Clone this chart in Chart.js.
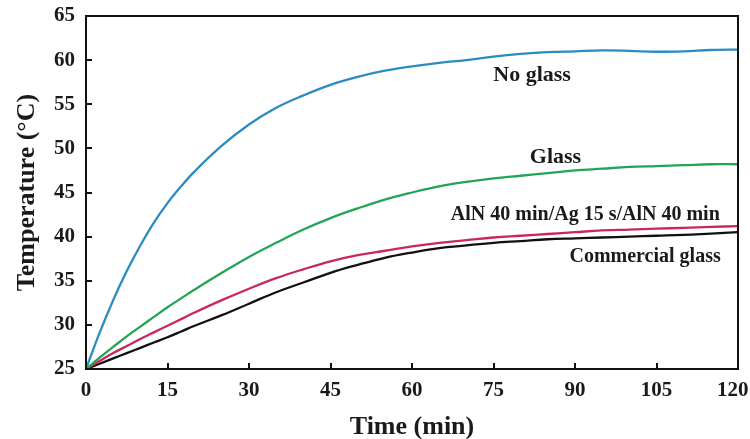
<!DOCTYPE html>
<html>
<head>
<meta charset="utf-8">
<script src="https://cdn.jsdelivr.net/npm/chart.js@4/dist/chart.umd.min.js"></script>
<style>
html,body{margin:0;padding:0;background:#fff;}
#wrap{width:750px;height:439px;position:relative;}
</style>
</head>
<body>
<div id="wrap"><canvas id="c" width="750" height="439"></canvas></div>
<script>
// ---- data ----
const timeMin = [0, 2.5, 5, 7.5, 10, 12.5, 15, 17.5, 20, 25, 30, 35, 40, 45, 50, 55, 60, 65, 70, 75, 80, 85, 90, 95, 100, 105, 110, 115, 120];
const noGlass = [25, 29.1, 32.8, 36.1, 39.0, 41.6, 43.8, 45.7, 47.4, 50.3, 52.7, 54.6, 56.0, 57.2, 58.1, 58.8, 59.3, 59.7, 60.0, 60.4, 60.7, 60.9, 61.0, 61.1, 61.05, 60.95, 61.0, 61.15, 61.2];
const glass = [25, 26.3, 27.5, 28.7, 29.8, 30.9, 32.0, 33.0, 34.0, 35.9, 37.7, 39.3, 40.8, 42.1, 43.2, 44.2, 45.0, 45.7, 46.2, 46.6, 46.9, 47.2, 47.5, 47.7, 47.9, 48.0, 48.1, 48.2, 48.2];
const alnAgAln = [25, 25.9, 26.8, 27.6, 28.4, 29.15, 29.9, 30.65, 31.4, 32.8, 34.1, 35.3, 36.3, 37.2, 37.9, 38.4, 38.9, 39.3, 39.6, 39.9, 40.1, 40.3, 40.5, 40.7, 40.8, 40.9, 41.0, 41.1, 41.2];
const commercialGlass = [25, 25.6, 26.2, 26.8, 27.4, 28.0, 28.6, 29.25, 29.9, 31.1, 32.4, 33.7, 34.8, 35.9, 36.8, 37.6, 38.2, 38.7, 39.0, 39.3, 39.5, 39.7, 39.8, 39.9, 40.0, 40.1, 40.2, 40.35, 40.5];
const seriesNames = ["No glass", "Glass", "AlN 40 min/Ag 15 s/AlN 40 min", "Commercial glass"];
const xTicks = [0, 15, 30, 45, 60, 75, 90, 105, 120];
const yTicks = [25, 30, 35, 40, 45, 50, 55, 60, 65];

// ---- style / layout ----
const colors = ["#2b8cc0", "#23a456", "#c8285d", "#111111"];
const FONT = "'Liberation Serif', 'Times New Roman', serif";
const labelPlacement = [
  {t: 82.1, v: 58.3, size: 22},
  {t: 86.4, v: 49.0, size: 22},
  {t: 91.9, v: 42.5, size: 20},
  {t: 102.9, v: 37.7, size: 20}
];

const toXY = arr => arr.map((v, i) => ({x: timeMin[i], y: v}));
const allSeries = [noGlass, glass, alnAgAln, commercialGlass];

const framePlugin = {
  id: 'frame',
  afterDatasetsDraw(chart) {
    const ctx = chart.ctx, a = chart.chartArea;
    const xs = chart.scales.x, ys = chart.scales.y;
    ctx.save();
    ctx.strokeStyle = '#111';
    ctx.lineWidth = 2;
    ctx.strokeRect(a.left, a.top, a.right - a.left, a.bottom - a.top);
    ctx.beginPath();
    xTicks.forEach((t, i) => {
      if (i === 0 || i === xTicks.length - 1) return;
      const px = Math.round(xs.getPixelForValue(t));
      ctx.moveTo(px, a.bottom);
      ctx.lineTo(px, a.bottom - 6);
    });
    yTicks.forEach((v, i) => {
      if (i === 0 || i === yTicks.length - 1) return;
      const py = Math.round(ys.getPixelForValue(v));
      ctx.moveTo(a.left, py);
      ctx.lineTo(a.left + 6, py);
    });
    ctx.stroke();
    ctx.fillStyle = '#1a1a1a';
    ctx.textAlign = 'center';
    ctx.textBaseline = 'middle';
    seriesNames.forEach((name, i) => {
      const p = labelPlacement[i];
      ctx.font = 'bold ' + p.size + 'px ' + FONT;
      ctx.fillText(name, xs.getPixelForValue(p.t), ys.getPixelForValue(p.v));
    });
    ctx.restore();
  }
};

new Chart(document.getElementById('c'), {
  type: 'line',
  data: {
    datasets: allSeries.map((s, i) => ({
      label: seriesNames[i],
      data: toXY(s),
      borderColor: colors[i],
      borderWidth: 2.3,
      pointRadius: 0,
      tension: 0.4,
      fill: false
    }))
  },
  options: {
    responsive: false,
    animation: false,
    layout: {padding: {top: 16, right: 12, left: 0, bottom: 0}},
    plugins: {legend: {display: false}, tooltip: {enabled: false}},
    scales: {
      x: {
        type: 'linear', min: 0, max: 120,
        afterBuildTicks: s => { s.ticks = xTicks.map(v => ({value: v})); },
        afterFit: s => { s.height = 70; s.paddingLeft = 0; s.paddingRight = 0; },
        grid: {display: false, drawTicks: false},
        border: {display: false},
        ticks: {
          color: '#1a1a1a', padding: 9, maxRotation: 0,
          font: {family: FONT, size: 21, weight: 'bold'},
          callback: v => (v === xTicks[xTicks.length - 1] ? v + '\u2002' : '' + v)
        },
        title: {display: true, text: 'Time (min)', color: '#1a1a1a', padding: {top: 0, bottom: -1}, font: {family: FONT, size: 26, weight: 'bold', lineHeight: 1}}
      },
      y: {
        type: 'linear', min: 25, max: 65,
        afterBuildTicks: s => { s.ticks = yTicks.map(v => ({value: v})); },
        afterFit: s => { s.width = 86; s.paddingTop = 0; s.paddingBottom = 0; },
        grid: {display: false, drawTicks: false},
        border: {display: false},
        ticks: {color: '#1a1a1a', padding: 11, font: {family: FONT, size: 21, weight: 'bold'}},
        title: {display: true, text: 'Temperature (°C)', color: '#1a1a1a', padding: {top: 14, bottom: 0}, font: {family: FONT, size: 26, weight: 'bold', lineHeight: 1}}
      }
    }
  },
  plugins: [framePlugin]
});
</script>
</body>
</html>
